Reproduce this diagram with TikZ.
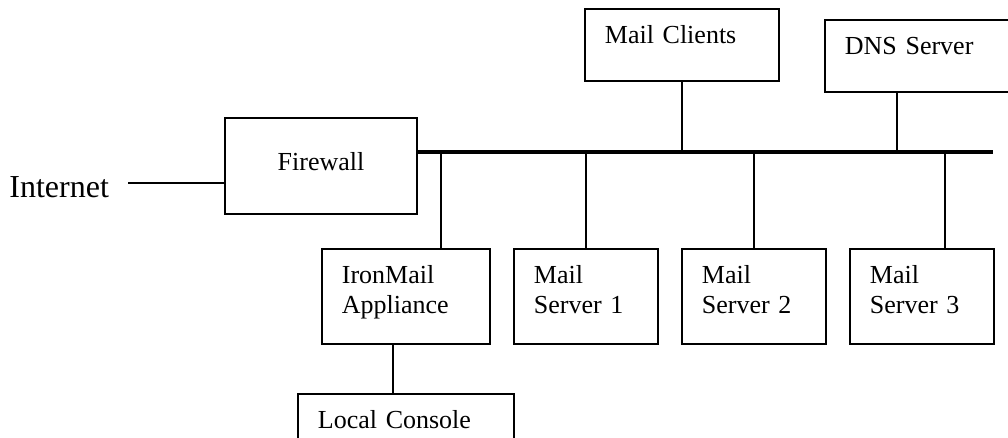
\documentclass[tikz,border=0pt]{standalone}
\usepackage{fontspec}
\setmainfont{Liberation Serif}

\begin{document}
\begin{tikzpicture}[x=0.5pt, y=-0.5pt,
  box/.style={draw, line width=0.9pt, anchor=north west, align=left, inner xsep=10pt, inner ysep=0pt, text height=17.5pt, font=\fontsize{13}{15}\selectfont},
  srv/.style={box, text width=52pt, text depth=30pt},
  wall/.style={draw, line width=0.9pt, minimum width=96pt, minimum height=48pt, text height=8.5pt, text depth=4pt, font=\fontsize{13}{15}\selectfont},
  link/.style={line width=0.9pt},
  bus/.style={line width=2.2pt}
]
\useasboundingbox (0,0) rectangle (1008,438);
\node[font=\fontsize{16}{19}\selectfont, anchor=base west, inner sep=0pt] (inet) at (9,198) {Internet};
\node[wall] (fw) at (321,166) {Firewall};
\node[box, text width=77pt, text depth=18.5pt] (mc) at (584,8) {Mail Clients};
\node[box, text width=80pt, text depth=18.5pt] (dns) at (824,19) {DNS Server};
\node[box, text width=64pt, text depth=30pt] (im) at (321,248) {IronMail\\Appliance};
\node[srv] (ms1) at (513,248) {Mail\\Server 1};
\node[srv] (ms2) at (681,248) {Mail\\Server 2};
\node[srv] (ms3) at (849,248) {Mail\\Server 3};
\node[box, text width=88pt, text depth=12.5pt] (lc) at (297,393) {Local Console};
% network
\coordinate (wan) at (128,183);
\coordinate (busend) at (993,152);
\coordinate (dnsfoot) at ([xshift=36.5pt]dns.south west);
\coordinate (imtop) at ([xshift=60pt]im.north west);
\coordinate (imfoot) at ([xshift=36pt]im.south west);
\coordinate (ms3top) at ([xshift=48pt]ms3.north west);
\draw[link] (wan) -- (wan -| fw.west);
\draw[bus] (fw.east |- busend) -- (busend);
\draw[link] (mc.south) -- (mc.south |- busend);
\draw[link] (dnsfoot) -- (dnsfoot |- busend);
\draw[link] (imtop |- busend) -- (imtop);
\draw[link] (ms1.north |- busend) -- (ms1.north);
\draw[link] (ms2.north |- busend) -- (ms2.north);
\draw[link] (ms3top |- busend) -- (ms3top);
\draw[link] (imfoot) -- (imfoot |- lc.north);
\end{tikzpicture}
\end{document}
